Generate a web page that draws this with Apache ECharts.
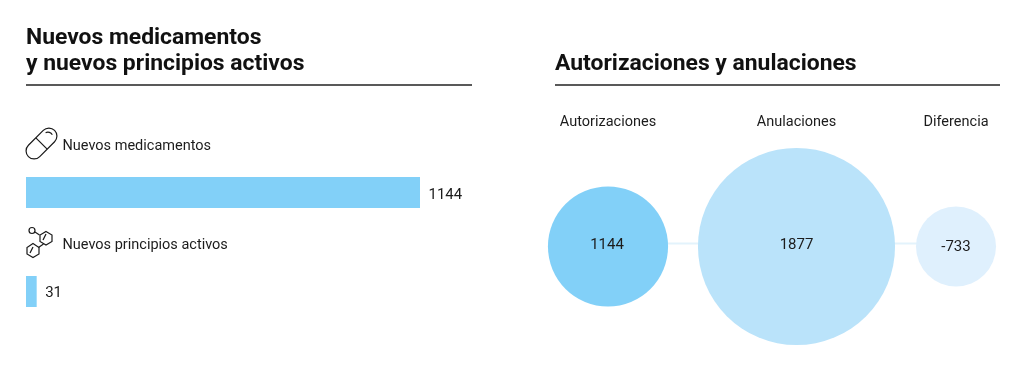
<!DOCTYPE html>
<html>
<head>
<meta charset="utf-8">
<style>html,body{margin:0;padding:0;background:#fff}#c{width:1024px;height:366px}</style>
<script src="https://cdn.jsdelivr.net/npm/echarts@6/dist/echarts.min.js"></script>
</head>
<body>
<div id="c"></div>
<script>
const barCategories = ['Nuevos medicamentos', 'Nuevos principios activos'];
const barValues = [1144, 31];
const bubbleCategories = ['Autorizaciones', 'Anulaciones', 'Diferencia'];
const bubbleValues = [1144, 1877, -733];
const bubbleSlots = [60, 248.5, 408];
const bubbleColors = ['#82d0f8', '#bae3fa', '#dff0fd'];
const FONT = 'Roboto';
const INK = '#1c1c1c';

const chart = echarts.init(document.getElementById('c'), null, {renderer: 'canvas'});
const stroke = {stroke: '#1a1a1a', lineWidth: 1.2, fill: 'none'};
const titleStyle = {fontFamily: FONT, fontWeight: 700, fontSize: 22.9, color: '#111', lineHeight: 26};
const labelText = {color: INK, fontFamily: FONT, fontSize: 15};
const hiddenDot = {color: 'transparent', opacity: 1};

chart.setOption({
  animation: false,
  backgroundColor: '#fff',
  title: [
    {text: 'Nuevos medicamentos\ny nuevos principios activos', left: 26, top: 25, padding: 0, textStyle: titleStyle},
    {text: 'Autorizaciones y anulaciones', left: 555, top: 51, padding: 0, textStyle: titleStyle}
  ],
  grid: [
    {left: 26, top: 143, width: 394, height: 198, outerBoundsMode: 'none'},
    {left: 548, top: 100, width: 448, height: 293, outerBoundsMode: 'none'}
  ],
  xAxis: [
    {gridIndex: 0, type: 'value', min: 0, max: 1144, show: false},
    {gridIndex: 1, type: 'value', min: 0, max: 448, show: false}
  ],
  yAxis: [
    {gridIndex: 0, type: 'category', inverse: true, data: barCategories, show: false},
    {gridIndex: 1, type: 'value', min: -146.5, max: 146.5, show: false}
  ],
  series: [
    {type: 'bar', xAxisIndex: 0, yAxisIndex: 0, barWidth: 31,
      data: barValues.map((v, i) => ({value: v, label: {offset: [0, i === 0 ? 3 : 1.5]}})),
      itemStyle: {color: '#82d0f8'},
      label: {show: true, position: 'right', distance: 8.5, ...labelText}},
    // row captions, sitting above each bar in the same category band
    {type: 'scatter', xAxisIndex: 0, yAxisIndex: 0, symbolSize: 1, itemStyle: hiddenDot,
      data: barCategories.map(c => [0, c]),
      label: {show: true, position: 'right', distance: 36, offset: [0, -46.5],
        formatter: p => p.value[1], ...labelText, fontSize: 14.5}},
    {type: 'line', xAxisIndex: 1, yAxisIndex: 1, z: 1, symbol: 'none',
      data: bubbleSlots.map(x => [x, 3]),
      lineStyle: {color: '#e3f3fc', width: 2}},
    {type: 'scatter', xAxisIndex: 1, yAxisIndex: 1, z: 2,
      data: bubbleValues.map((v, i) => ({
        value: [bubbleSlots[i], 0, v],
        itemStyle: {color: bubbleColors[i], opacity: 1},
        label: {offset: i === 2 ? [0, 1] : [i === 0 ? -1 : 0, -1]}
      })),
      symbolSize: p => Math.max(80, Math.abs(p[2]) * 0.105),
      label: {show: true, position: 'inside', formatter: p => String(p.value[2]), ...labelText}},
    {type: 'scatter', xAxisIndex: 1, yAxisIndex: 1, z: 2, symbolSize: 1, itemStyle: hiddenDot,
      data: bubbleCategories.map((c, i) => [bubbleSlots[i], 124.5, c]),
      label: {show: true, position: 'inside', formatter: p => p.value[2], ...labelText, fontSize: 14.5}}
  ],
  graphic: [
    {type: 'line', shape: {x1: 26, y1: 85, x2: 472, y2: 85}, style: {stroke: '#222', lineWidth: 1.5}},
    {type: 'line', shape: {x1: 555, y1: 85, x2: 1000, y2: 85}, style: {stroke: '#222', lineWidth: 1.5}},
    // pill icon
    {type: 'group', x: 41.5, y: 143.5, rotation: Math.PI / 4, children: [
      {type: 'rect', shape: {x: -18.5, y: -8, width: 37, height: 16, r: 8}, style: stroke},
      {type: 'line', shape: {x1: 0, y1: -8, x2: 0, y2: 8}, style: stroke},
      {type: 'arc', shape: {cx: 9, cy: 0, r: 5, startAngle: -Math.PI * 0.4, endAngle: Math.PI * 0.1}, style: {stroke: '#1a1a1a', lineWidth: 1.1, fill: 'none'}}
    ]},
    // molecule icon
    {type: 'group', x: 0, y: 0, children: [
      {type: 'circle', shape: {cx: 32, cy: 230.5, r: 3}, style: stroke},
      {type: 'line', shape: {x1: 35, y1: 232, x2: 39.5, y2: 235}, style: stroke},
      {type: 'polygon', shape: {points: [[46, 231.5], [52, 235], [52, 241.5], [46, 245], [40, 241.5], [40, 235]]}, style: stroke},
      {type: 'line', shape: {x1: 43, y1: 240, x2: 46, y2: 234}, style: stroke},
      {type: 'line', shape: {x1: 43.5, y1: 244, x2: 38.5, y2: 247.5}, style: stroke},
      {type: 'polygon', shape: {points: [[33, 243.5], [39, 247.5], [39, 254], [33, 257.5], [27, 254], [27, 247.5]]}, style: stroke},
      {type: 'line', shape: {x1: 30, y1: 253, x2: 33, y2: 247}, style: stroke}
    ]}
  ]
});
</script>
</body>
</html>
